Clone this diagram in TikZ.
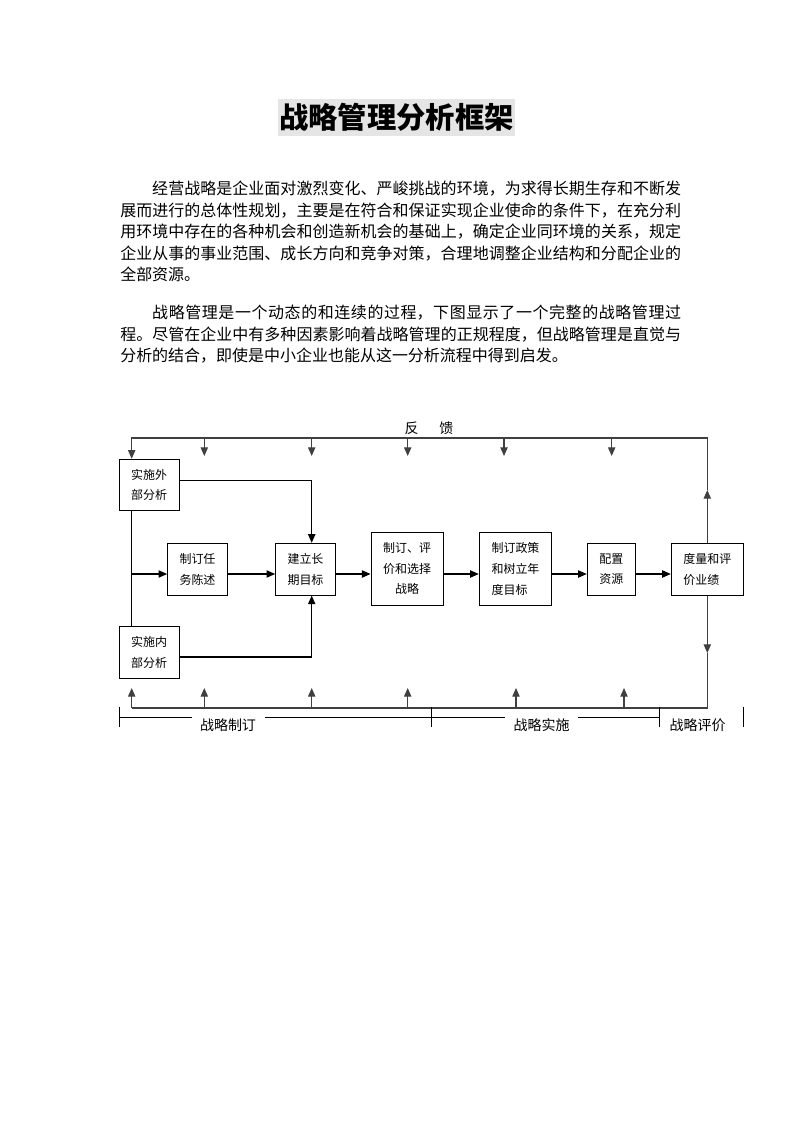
\documentclass[tikz,border=0pt]{standalone}
\usepackage{fontspec}
\setmainfont{Noto Sans CJK SC}
\usetikzlibrary{arrows.meta}
\XeTeXlinebreaklocale "zh"
\XeTeXlinebreakskip=0pt plus 1pt

\begin{document}
\begin{tikzpicture}[x=0.7507pt, y=-0.7507pt,
  >={Triangle[width=5.5pt,length=6.5pt]},
  box/.style={draw, line width=0.8pt, inner sep=0pt, align=center, font=\fontsize{9}{15.5}\selectfont},
  link/.style={line width=0.8pt},
  fb/.style={line width=0.8pt, draw=black!75},
  para/.style={anchor=north west, inner sep=0pt, text width=421pt, align=justify, font=\fontsize{12}{16.1}\selectfont},
  tag/.style={fill=white, inner xsep=6.4pt, inner ysep=2pt, font=\fontsize{10.5}{10.5}\selectfont}]
\useasboundingbox (0,0) rectangle (793,1122);

\node[fill=black!10, inner xsep=1pt, minimum height=37*0.7507pt, font=\fontsize{22}{22}\selectfont\bfseries] (title) at (396.5,117.5) {战略管理分析框架};

\node[para] (para1) at (120,181) {\hspace*{2em}经营战略是企业面对激烈变化、严峻挑战的环境，为求得长期生存和不断发展而进行的总体性规划，主要是在符合和保证实现企业使命的条件下，在充分利用环境中存在的各种机会和创造新机会的基础上，确定企业同环境的关系，规定企业从事的事业范围、成长方向和竞争对策，合理地调整企业结构和分配企业的全部资源。};
\node[para] (para2) at (120,305) {\hspace*{2em}战略管理是一个动态的和连续的过程，下图显示了一个完整的战略管理过程。尽管在企业中有多种因素影响着战略管理的正规程度，但战略管理是直觉与分析的结合，即使是中小企业也能从这一分析流程中得到启发。};

\node[box, minimum width=60.3*0.7507pt, minimum height=51.4*0.7507pt] (ext) at (149.2,485) {实施外\\部分析};
\node[box, minimum width=60.3*0.7507pt, minimum height=52*0.7507pt] (int) at (149.2,652.3) {实施内\\部分析};
\node[box, minimum width=59.6*0.7507pt, minimum height=51.7*0.7507pt] (mission) at (197.5,569.2) {制订任\\务陈述};
\node[box, minimum width=59.6*0.7507pt, minimum height=51.7*0.7507pt] (goal) at (305.5,569.2) {建立长\\期目标};
\node[box, minimum width=72.3*0.7507pt, minimum height=73*0.7507pt] (strat) at (407.2,568.8) {制订、评\\价和选择\\战略};
\node[box, align=left, minimum width=72.4*0.7507pt, minimum height=73*0.7507pt] (policy) at (515.5,568.8) {制订政策\\和树立年\\度目标};
\node[box, minimum width=48*0.7507pt, minimum height=51.7*0.7507pt] (res) at (611.3,569.2) {配置\\资源};
\node[box, align=left, minimum width=72*0.7507pt, minimum height=51.7*0.7507pt] (eval) at (707.3,569.2) {度量和评\\价业绩};

\coordinate (rowA) at (0,574);
\coordinate (rowB) at (0,480.3);
\coordinate (rowC) at (0,657);
\coordinate (topL) at (131.7,438);
\coordinate (topR) at (707.3,438);
\coordinate (colB) at (311.7,438);
\coordinate (upR) at (707.3,490);
\coordinate (dnR) at (707.3,653);
\coordinate (botL) at (131.7,708);
\coordinate (botR) at (707.3,708);

\draw[link] (ext.south -| topL) -- (int.north -| topL);
\draw[link,->] (topL |- rowA) -- (mission.west |- rowA);
\draw[link,->] (mission.east |- rowA) -- (goal.west |- rowA);
\draw[link,->] (goal.east |- rowA) -- (strat.west |- rowA);
\draw[link,->] (strat.east |- rowA) -- (policy.west |- rowA);
\draw[link,->] (policy.east |- rowA) -- (res.west |- rowA);
\draw[link,->] (res.east |- rowA) -- (eval.west |- rowA);
\draw[link,->] (ext.east |- rowB) -| (goal.north -| colB);
\draw[link,->] (int.east |- rowC) -| (goal.south -| colB);

\draw[fb,->] (eval.north) -- (upR);
\draw[fb,->] (upR) -- (topR) -- (topL) -- (ext.north -| topL);
\foreach \x [count=\i] in {204.3,311.7,407.7,504,611.7} {
  \coordinate (t\i) at (\x,438);
  \coordinate (ta\i) at (\x,456);
  \draw[fb,->] (t\i) -- (ta\i);
}
\node[font=\fontsize{10.5}{10.5}\selectfont] (fbtext) at (429,428) {反\hspace{1.5em}馈};

\draw[fb,->] (eval.south) -- (dnR);
\draw[fb] (dnR) -- (botR) -- (botL);
\foreach \x [count=\i] in {131.7,204.3,311.7,407.7,516,624} {
  \coordinate (b\i) at (\x,708);
  \coordinate (ba\i) at (\x,688);
  \draw[fb,->] (b\i) -- (ba\i);
}

\coordinate (k1) at (119.7,717.3);
\coordinate (k2) at (431.7,717.3);
\coordinate (k3) at (659.3,717.3);
\coordinate (k4) at (743.3,717.3);
\draw[link] (k1) -- (k3);
\foreach \k in {k1,k2,k3,k4}
  \draw[link] ([yshift=8pt]\k) -- ([yshift=-7.5pt]\k);
\node[tag] (phase1) at (228,725) {战略制订};
\node[tag] (phase2) at (541.7,725) {战略实施};
\node[tag] (phase3) at (697.7,725) {战略评价};

\end{tikzpicture}
\end{document}
